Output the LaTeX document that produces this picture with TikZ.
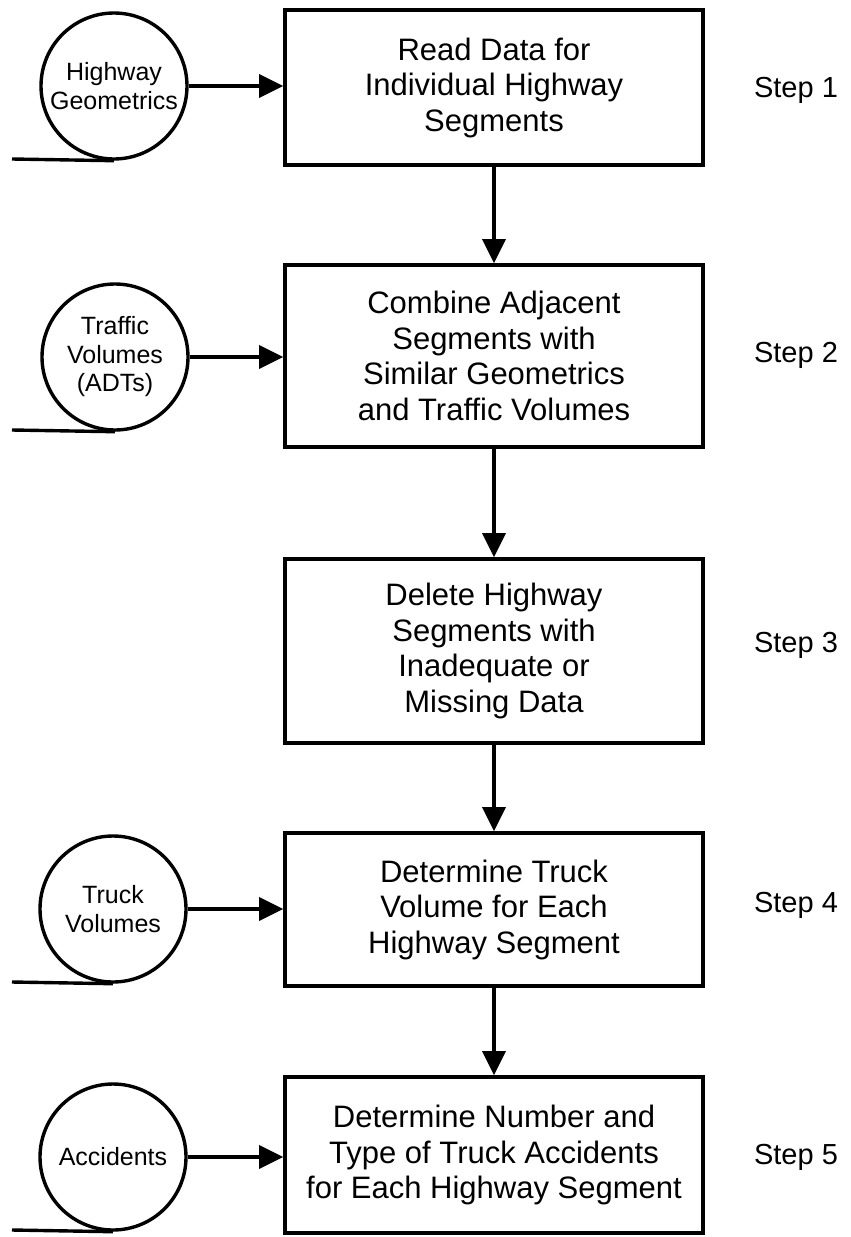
\documentclass[tikz,border=0pt]{standalone}
\usepackage{fontspec}
\setmainfont{Liberation Sans}
\usetikzlibrary{arrows.meta}
\begin{document}
\begin{tikzpicture}[x=1pt,y=-1pt,
  procbox/.style={draw,line width=3.6pt,minimum width=418pt,inner sep=4pt,align=center,font=\fontsize{31}{35.5}\selectfont},
  srcdisk/.style={draw,circle,line width=3.4pt,minimum size=146pt,inner sep=0pt,align=center,font=\fontsize{25}{28.5}\selectfont},
  steplabel/.style={font=\fontsize{29}{33}\selectfont,inner sep=0pt},
  flow/.style={line width=3.3pt,-{Triangle[length=24pt,width=23pt]}},
  tape/.style={line width=3.4pt}]
\useasboundingbox (0,0) rectangle (851,1237);
% process boxes
\node[procbox,minimum height=155pt] (b1) at (494,87.5) {Read Data for\\Individual Highway\\Segments};
\node[procbox,minimum height=182pt] (b2) at (494,356) {Combine Adjacent\\Segments with\\Similar Geometrics\\and Traffic Volumes};
\node[procbox,minimum height=184pt] (b3) at (494,651) {Delete Highway\\Segments with\\Inadequate or\\Missing Data};
\node[procbox,minimum height=153pt] (b4) at (494,909.5) {Determine Truck\\Volume for Each\\Highway Segment};
\node[procbox,minimum height=156pt] (b5) at (494,1155) {Determine Number and\\Type of Truck Accidents\\for Each Highway Segment};
% data sources
\node[srcdisk] (c1) at (114,86) {Highway\\Geometrics};
\node[srcdisk] (c2) at (115,357) {Traffic\\Volumes\\(ADTs)};
\node[srcdisk] (c4) at (113,909) {Truck\\Volumes};
\node[srcdisk] (c5) at (113,1157) {Accidents};
% tape tails
\coordinate (t1) at (12,159);
\coordinate (t2) at (12,430);
\coordinate (t4) at (12,982);
\coordinate (t5) at (12,1230);
\draw[tape] (t1) -- (c1.south);
\draw[tape] (t2) -- (c2.south);
\draw[tape] (t4) -- (c4.south);
\draw[tape] (t5) -- (c5.south);
% step labels
\node[steplabel] (s1) at (796,90) {Step 1};
\node[steplabel] (s2) at (796,355) {Step 2};
\node[steplabel] (s3) at (796,645) {Step 3};
\node[steplabel] (s4) at (796,905) {Step 4};
\node[steplabel] (s5) at (796,1157) {Step 5};
% flows
\draw[flow] (c1.east) -- (c1.east -| b1.west);
\draw[flow] (c2.east) -- (c2.east -| b2.west);
\draw[flow] (c4.east) -- (c4.east -| b4.west);
\draw[flow] (c5.east) -- (c5.east -| b5.west);
\draw[flow] (b1.south) -- (b2.north);
\draw[flow] (b2.south) -- (b3.north);
\draw[flow] (b3.south) -- (b4.north);
\draw[flow] (b4.south) -- (b5.north);
\end{tikzpicture}
\end{document}
